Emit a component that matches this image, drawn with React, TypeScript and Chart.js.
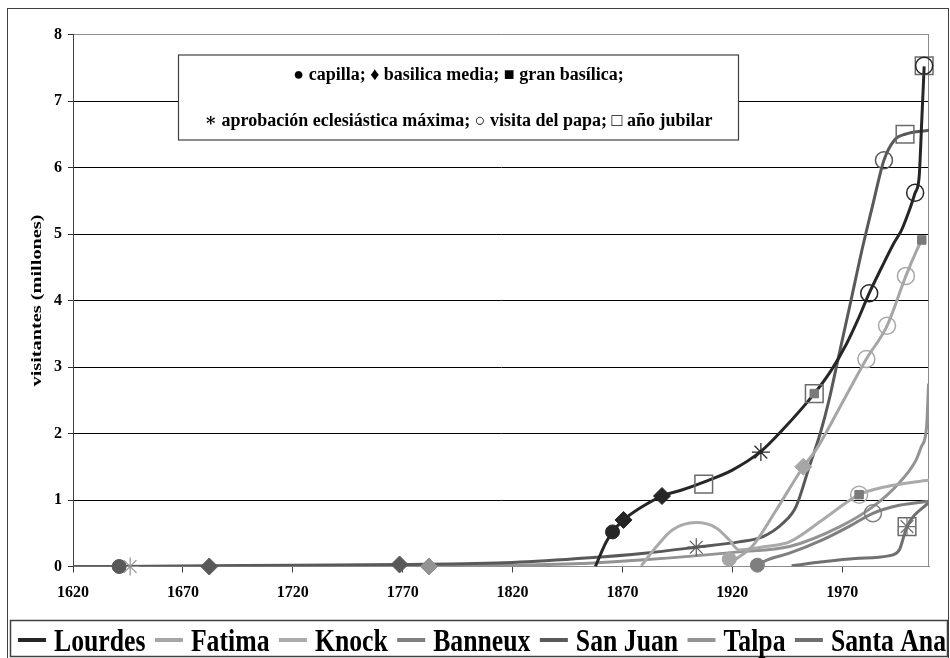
import React, { useEffect, useRef } from 'react';
import { Chart, registerables } from 'chart.js';

Chart.register(...registerables);

// ---------- data ----------
const SERIES_NAMES = ['Lourdes', 'Fatima', 'Knock', 'Banneux', 'San Juan', 'Talpa', 'Santa Ana'];
const SERIES_COLORS = ['#262626', '#a6a6a6', '#aaaaaa', '#7f7f7f', '#595959', '#939393', '#707070'];

const LOURDES_YEARS = [1857.7, 1860, 1862.5, 1865.5, 1870.5, 1878, 1888, 1897, 1907, 1920, 1933, 1943, 1957.3, 1965, 1972, 1977, 1982.3, 1988, 1993.5, 1997, 2001, 2003.2, 2005, 2006.2, 2007.3];
const LOURDES_VALUES = [0, 0.18, 0.36, 0.52, 0.7, 0.88, 1.06, 1.15, 1.27, 1.45, 1.73, 2.06, 2.6, 2.95, 3.35, 3.7, 4.11, 4.5, 4.86, 5.06, 5.4, 5.62, 5.85, 6.7, 7.52];

const FATIMA_YEARS = [1918, 1922, 1929, 1940, 1952.3, 1958, 1970, 1981, 1990.4, 1999, 2004, 2006.2];
const FATIMA_VALUES = [0.03, 0.12, 0.3, 0.85, 1.5, 1.75, 2.46, 3.12, 3.62, 4.37, 4.76, 4.91];

const KNOCK_YEARS = [1878.6, 1885.5, 1892.7, 1903.6, 1912.7, 1918.6, 1923, 1935, 1946, 1961, 1977.7, 1990, 2009.5];
const KNOCK_VALUES = [0.01, 0.3, 0.55, 0.66, 0.58, 0.4, 0.25, 0.3, 0.37, 0.7, 1.08, 1.2, 1.3];

const BANNEUX_YEARS = [1931.4, 1936, 1946, 1961, 1973, 1984, 1996, 2009.5];
const BANNEUX_VALUES = [0.02, 0.1, 0.2, 0.4, 0.6, 0.8, 0.92, 0.98];

const SANJUAN_YEARS = [1620, 1641, 1682, 1720, 1769, 1820, 1855, 1880, 1903.6, 1923, 1934, 1943, 1949, 1955, 1960, 1964, 1968, 1974, 1979, 1984, 1989, 1994, 1998.6, 2009.5];
const SANJUAN_VALUES = [0, 0, 0.01, 0.02, 0.03, 0.06, 0.13, 0.2, 0.29, 0.37, 0.45, 0.65, 0.9, 1.5, 2.0, 2.5, 3.1, 4.0, 4.76, 5.45, 6.11, 6.42, 6.5, 6.56];

const TALPA_YEARS = [1644, 1700, 1782, 1820, 1855, 1880, 1923, 1946, 1969, 1984, 1996, 2003.6, 2006, 2008.4, 2009.3];
const TALPA_VALUES = [0, 0, 0.01, 0.02, 0.05, 0.1, 0.22, 0.3, 0.6, 0.9, 1.26, 1.6, 1.8, 2.1, 2.75];

const SANTAANA_YEARS = [1947, 1961, 1976, 1991, 1996, 1998, 1999.5, 2009.5];
const SANTAANA_VALUES = [0.01, 0.07, 0.12, 0.16, 0.25, 0.45, 0.6, 0.97];

const SERIES_YEARS = [LOURDES_YEARS, FATIMA_YEARS, KNOCK_YEARS, BANNEUX_YEARS, SANJUAN_YEARS, TALPA_YEARS, SANTAANA_YEARS];
const SERIES_VALUES = [LOURDES_VALUES, FATIMA_VALUES, KNOCK_VALUES, BANNEUX_VALUES, SANJUAN_VALUES, TALPA_VALUES, SANTAANA_VALUES];

// events (markers): series name, year, value
const CAPILLA_EVENTS: [string, number, number][] = [
  ['San Juan', 1641, 0], ['Lourdes', 1865.5, 0.52], ['Fatima', 1918.6, 0.11], ['Banneux', 1931.4, 0.02],
];
const BASILICA_MEDIA_EVENTS: [string, number, number][] = [
  ['San Juan', 1682, 0], ['San Juan', 1768.6, 0.03], ['Talpa', 1782, 0], ['Lourdes', 1870.5, 0.7], ['Lourdes', 1888, 1.06], ['Fatima', 1952.3, 1.5],
];
const GRAN_BASILICA_EVENTS: [string, number, number][] = [
  ['Lourdes', 1957.3, 2.6], ['Knock', 1977.7, 1.08], ['Fatima', 2006.2, 4.91],
];
const APROBACION_EVENTS: [string, number, number][] = [
  ['Talpa', 1646, 0], ['San Juan', 1903.6, 0.29], ['Lourdes', 1933, 1.72], ['Santa Ana', 1999.5, 0.6],
];
const VISITA_PAPA_EVENTS: [string, number, number][] = [
  ['Knock', 1977.7, 1.08], ['Fatima', 1981, 3.12], ['Lourdes', 1982.3, 4.11], ['Banneux', 1984, 0.8], ['San Juan', 1989, 6.11],
  ['Fatima', 1990.4, 3.62], ['Fatima', 1999, 4.37], ['Lourdes', 2003.2, 5.62], ['Lourdes', 2007.3, 7.53],
];
const ANO_JUBILAR_EVENTS: [string, number, number][] = [
  ['Lourdes', 1907, 1.24], ['Lourdes', 1957.3, 2.6], ['San Juan', 1998.6, 6.5], ['Santa Ana', 1999.5, 0.6], ['Lourdes', 2007.3, 7.53],
];

const X_TICKS = [1620, 1670, 1720, 1770, 1820, 1870, 1920, 1970];
const X_MIN = 1620;
const X_MAX = 2009.5;
const Y_MAX = 8;

const Y_TITLE = 'visitantes (millones)';
const NOTE_LINE_1 = '● capilla; ♦ basilica media; ■ gran basílica;';
const NOTE_LINE_2 = '∗ aprobación eclesiástica máxima; ○ visita del papa; □ año jubilar';

// ---------- styling ----------
const SERIF = '"Liberation Serif", "DejaVu Serif", serif';
const colorOf = (name: string) => SERIES_COLORS[SERIES_NAMES.indexOf(name)];

function markerDataset(events: [string, number, number][], style: any) {
  return {
    label: '',
    data: events.map(([, x, y]) => ({ x, y })),
    showLine: false,
    clip: false,
    order: -1,
    pointHoverRadius: style.radius,
    ...style.build(events.map(([n]) => colorOf(n))),
  };
}

const decorPlugin = {
  id: 'decor',
  beforeDatasetsDraw(chart: any) {
    const { ctx, chartArea: a } = chart;
    ctx.save();
    // right border of plot area
    ctx.strokeStyle = '#8c8c8c';
    ctx.lineWidth = 1;
    ctx.beginPath();
    ctx.moveTo(Math.round(a.right) - 0.5, a.top);
    ctx.lineTo(Math.round(a.right) - 0.5, a.bottom);
    ctx.stroke();
    // annotation box
    const bx = a.left + 105.5, by = a.top + 20.5, bw = 560, bh = 85;
    ctx.fillStyle = '#ffffff';
    ctx.fillRect(bx, by, bw, bh);
    ctx.strokeStyle = '#404040';
    ctx.lineWidth = 1.2;
    ctx.strokeRect(bx, by, bw, bh);
    ctx.fillStyle = '#000';
    ctx.font = `bold 18px ${SERIF}`;
    ctx.textAlign = 'center';
    ctx.textBaseline = 'middle';
    ctx.fillText(NOTE_LINE_1, bx + bw / 2, by + 20);
    ctx.fillText(NOTE_LINE_2, bx + bw / 2, by + 66);
    ctx.restore();
  },
  afterDraw(chart: any) {
    const { ctx, chartArea: a } = chart;
    ctx.save();
    // outer frame
    ctx.strokeStyle = '#404040';
    ctx.lineWidth = 1;
    ctx.strokeRect(7.5, 8.5, 941, 700);
    // legend box
    ctx.lineWidth = 1.5;
    ctx.strokeRect(10.5, 620.5, 937, 36);
    // y title
    ctx.save();
    ctx.translate(37, (a.top + a.bottom) / 2);
    ctx.rotate(-Math.PI / 2);
    ctx.scale(1.45, 1);
    ctx.fillStyle = '#000';
    ctx.font = `bold 14px ${SERIF}`;
    ctx.textAlign = 'center';
    ctx.textBaseline = 'middle';
    ctx.fillText(Y_TITLE, 0, 0);
    ctx.restore();
    // legend items
    const sx = 0.83;
    ctx.font = `bold 31px ${SERIF}`;
    const lineDs = chart.data.datasets.filter((d: any) => d.label);
    const widths = lineDs.map((d: any) => ctx.measureText(d.label).width * sx);
    const markW = 28, markGap = 8;
    const total = widths.reduce((s: number, w: number) => s + w + markW + markGap, 0);
    const startX = 18, endX = 946;
    const gap = (endX - startX - total) / (lineDs.length - 1);
    let x = startX;
    const baseY = 651;
    lineDs.forEach((d: any, i: number) => {
      ctx.strokeStyle = d.borderColor;
      ctx.lineWidth = 4;
      ctx.beginPath();
      ctx.moveTo(x, 640);
      ctx.lineTo(x + markW, 640);
      ctx.stroke();
      x += markW + markGap;
      ctx.save();
      ctx.translate(x, baseY);
      ctx.scale(sx, 1);
      ctx.fillStyle = '#000';
      ctx.textAlign = 'left';
      ctx.textBaseline = 'alphabetic';
      ctx.fillText(d.label, 0, 0);
      ctx.restore();
      x += widths[i] + gap;
    });
    ctx.restore();
  },
};

function buildConfig(): any {
  const lineDatasets = SERIES_NAMES.map((name, i) => ({
    label: name,
    data: SERIES_YEARS[i].map((yr, j) => ({ x: yr, y: SERIES_VALUES[i][j] })),
    borderColor: SERIES_COLORS[i],
    backgroundColor: SERIES_COLORS[i],
    borderWidth: 3,
    pointRadius: 0,
    pointHoverRadius: 0,
    cubicInterpolationMode: 'monotone',
    fill: false,
    order: i,
  }));

  const markers = [
    markerDataset(CAPILLA_EVENTS, {
      radius: 7,
      build: (cols: string[]) => ({ pointStyle: 'circle', pointRadius: 7, pointBackgroundColor: cols, pointBorderColor: cols, pointBorderWidth: 1 }),
    }),
    markerDataset(BASILICA_MEDIA_EVENTS, {
      radius: 8.5,
      build: (cols: string[]) => ({ pointStyle: 'rectRot', pointRadius: 8.5, pointBackgroundColor: cols, pointBorderColor: cols, pointBorderWidth: 1 }),
    }),
    markerDataset(GRAN_BASILICA_EVENTS, {
      radius: 6,
      build: (cols: string[]) => ({ pointStyle: 'rect', pointRadius: 6, pointBackgroundColor: cols.map(() => '#7a7a7a'), pointBorderColor: cols.map(() => '#7a7a7a'), pointBorderWidth: 1 }),
    }),
    markerDataset(APROBACION_EVENTS, {
      radius: 9,
      build: (cols: string[]) => ({ pointStyle: 'star', pointRadius: 9, pointBackgroundColor: cols, pointBorderColor: cols, pointBorderWidth: 1.2 }),
    }),
    markerDataset(VISITA_PAPA_EVENTS, {
      radius: 8.5,
      build: (cols: string[]) => ({ pointStyle: 'circle', pointRadius: 8.5, pointBackgroundColor: 'rgba(0,0,0,0)', pointBorderColor: cols, pointBorderWidth: 1.5 }),
    }),
    markerDataset(ANO_JUBILAR_EVENTS, {
      radius: 12.5,
      build: (cols: string[]) => ({ pointStyle: 'rect', pointRadius: 12.5, pointBackgroundColor: 'rgba(0,0,0,0)', pointBorderColor: cols.map(() => '#6b6b6b'), pointBorderWidth: 1.5 }),
    }),
  ];

  const tickFont = { family: SERIF, weight: 'bold', size: 16 };

  return {
    type: 'line',
    data: { datasets: [...lineDatasets, ...markers] },
    plugins: [decorPlugin],
    options: {
      animation: false,
      responsive: false,
      maintainAspectRatio: false,
      events: [],
      layout: { padding: { left: 8, right: 21, top: 34.5, bottom: 51.5 } },
      plugins: {
        legend: { display: false },
        tooltip: { enabled: false },
        title: { display: false },
      },
      scales: {
        x: {
          type: 'linear',
          min: X_MIN,
          max: X_MAX,
          afterBuildTicks: (scale: any) => {
            scale.ticks = X_TICKS.map((v) => ({ value: v }));
          },
          afterFit: (scale: any) => {
            scale.height = 40;
          },
          ticks: {
            font: tickFont,
            color: '#000',
            padding: 11,
            maxRotation: 0,
            autoSkip: false,
            callback: (v: number) => String(v),
          },
          grid: { drawOnChartArea: false, drawTicks: true, tickLength: 6, tickColor: '#404040', color: '#404040' },
          border: { color: '#8c8c8c', width: 1 },
        },
        y: {
          type: 'linear',
          min: 0,
          max: Y_MAX,
          afterFit: (scale: any) => {
            scale.width = 65;
          },
          ticks: { stepSize: 1, font: tickFont, color: '#000', padding: 6 },
          grid: {
            color: (c: any) => (c.tick && (c.tick.value === 0 || c.tick.value === Y_MAX) ? '#8c8c8c' : '#000000'),
            lineWidth: 1,
            tickLength: 5,
            tickColor: '#303030',
          },
          border: { color: '#404040', width: 1 },
        },
      },
    },
  };
}

export default function App() {
  const ref = useRef<HTMLCanvasElement>(null);
  useEffect(() => {
    if (!ref.current) return;
    const chart = new Chart(ref.current, buildConfig());
    return () => chart.destroy();
  }, []);
  return (
    <div style={{ position: 'fixed', left: 0, top: 0, width: 950, height: 658, background: '#fff' }}>
      <canvas ref={ref} width={950} height={658} style={{ display: 'block', width: 950, height: 658 }} />
    </div>
  );
}
